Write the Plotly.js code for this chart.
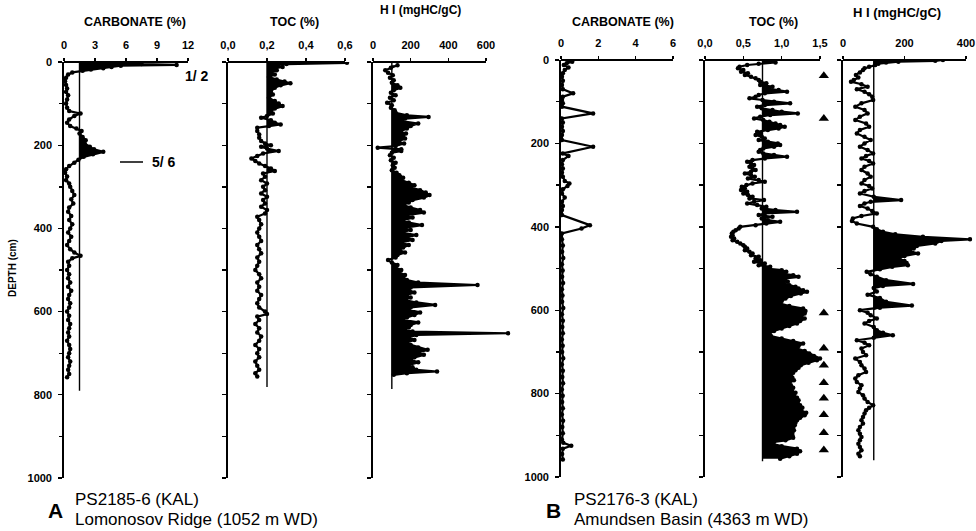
<!DOCTYPE html>
<html><head><meta charset="utf-8">
<script src="https://cdn.plot.ly/plotly-3.0.1.min.js"></script>
<style>html,body{margin:0;padding:0;background:#fff}#chart{width:976px;height:531px}</style>
</head><body><div id="chart"></div>
<script>
// ---------- DATA: [depth (cm), value] ----------
const carbonateA = [[0,4.8],[3,6.2],[5,7.5],[7,10.9],[9,5.5],[12,4.6],[15,3.8],[18,2.6],[21,1.8],[25,0.8],
[30,0.4],[38,0.2],[46,0.1],[55,0.2],[64,0.3],[72,0.2],[80,0.4],[90,0.3],[100,0.2],[110,0.3],
[118,0.5],[124,1.6],[130,1.0],[138,0.5],[146,0.3],[154,0.6],[160,1.2],[166,1.7],[172,1.5],[180,1.8],
[188,2.1],[196,2.0],[204,2.5],[210,2.9],[216,3.8],[222,2.8],[228,1.9],[235,1.4],[242,1.0],[250,0.5],
[258,0.2],[266,0.1],[275,0.3],[284,0.2],[292,0.5],[300,0.6],[310,0.8],[320,1.0],[330,0.7],[340,0.9],
[350,0.5],[360,0.4],[370,0.7],[380,0.5],[390,0.8],[400,0.6],[410,0.4],[420,0.7],[430,0.5],[440,0.3],
[450,0.6],[458,1.0],[466,1.6],[472,0.8],[480,0.4],[490,0.5],[500,0.3],[510,0.5],[520,0.4],[530,0.6],
[540,0.4],[550,0.7],[560,0.5],[570,0.4],[580,0.6],[590,0.5],[600,0.3],[610,0.5],[620,0.4],[630,0.6],
[640,0.5],[650,0.4],[660,0.5],[670,0.3],[680,0.5],[690,0.6],[700,0.5],[710,0.4],[720,0.6],[730,0.5],
[740,0.4],[750,0.5],[758,0.3]];

const tocA = [[0,0.26],[2,0.61],[5,0.30],[8,0.24],[12,0.28],[16,0.23],[20,0.25],[25,0.22],[30,0.24],[36,0.21],
[42,0.25],[47,0.29],[51,0.32],[56,0.27],[62,0.24],[70,0.22],[78,0.23],[86,0.21],[94,0.24],[100,0.26],
[106,0.28],[112,0.24],[118,0.22],[124,0.23],[130,0.20],[134,0.17],[140,0.22],[146,0.24],[150,0.27],[154,0.21],
[158,0.15],[166,0.15],[174,0.16],[182,0.16],[190,0.17],[196,0.19],[200,0.22],[204,0.17],[208,0.20],[214,0.26],
[220,0.18],[226,0.15],[232,0.12],[238,0.14],[244,0.16],[250,0.19],[256,0.22],[262,0.24],[268,0.18],[276,0.19],
[284,0.17],[292,0.20],[300,0.18],[308,0.19],[316,0.17],[324,0.20],[332,0.18],[340,0.19],[348,0.17],[356,0.20],
[364,0.19],[372,0.15],[380,0.16],[390,0.17],[400,0.16],[410,0.15],[420,0.16],[430,0.17],[440,0.15],[450,0.16],
[460,0.17],[470,0.15],[480,0.16],[490,0.15],[500,0.14],[510,0.16],[520,0.17],[530,0.15],[540,0.16],[550,0.15],
[560,0.17],[570,0.16],[580,0.15],[590,0.16],[600,0.19],[606,0.20],[612,0.15],[620,0.16],[630,0.14],[640,0.16],
[650,0.15],[660,0.17],[670,0.16],[680,0.14],[690,0.16],[700,0.15],[710,0.16],[720,0.14],[730,0.15],[740,0.16],
[748,0.14],[756,0.15]];

const hiA = [[8,130],[14,95],[20,65],[26,80],[32,105],[38,90],[44,110],[50,100],[56,130],[62,145],
[68,110],[74,95],[80,120],[86,90],[92,110],[98,75],[104,100],[110,95],[116,115],[122,120],
[128,180],[132,295],[136,170],[142,150],[148,240],[154,200],[160,180],[166,150],[172,175],[178,160],
[184,170],[190,140],[196,165],[202,120],[206,25],[210,150],[214,150],[218,100],[224,90],[230,110],
[236,95],[242,120],[248,105],[254,115],[260,100],[266,125],[272,140],[278,160],[284,150],[290,190],
[296,220],[302,200],[308,250],[314,280],[320,300],[326,270],[332,210],[338,190],[344,160],[350,200],
[356,250],[362,270],[368,180],[374,210],[380,160],[386,190],[392,260],[398,170],[404,200],[410,150],
[416,230],[422,180],[428,210],[434,150],[440,190],[446,160],[452,140],[458,170],[464,130],[470,120],
[476,80],[482,100],[488,130],[494,120],[500,150],[506,140],[512,170],[518,160],[524,180],[530,240],
[536,555],[542,200],[548,190],[554,220],[560,180],[566,200],[572,170],[578,230],[584,330],[590,200],
[596,190],[602,250],[608,220],[614,180],[620,160],[626,240],[632,200],[638,190],[644,170],[648,210],
[652,717],[656,230],[662,190],[668,220],[674,180],[680,200],[686,240],[692,290],[698,240],[704,270],
[710,220],[716,200],[722,240],[728,190],[734,210],[740,230],[744,340],[748,180],[752,110]];

const carbonateB = [[0,0.4],[4,0.6],[8,0.3],[12,0.15],[18,0.4],[24,0.2],[32,0.1],[40,0.05],[50,0.1],[60,0.05],
[70,0.1],[80,0.65],[88,0.1],[96,0.05],[104,0.1],[112,0.05],[128,1.72],[140,0.05],[150,0.1],[160,0.05],
[170,0.1],[180,0.05],[192,0.05],[208,1.72],[224,0.1],[230,0.4],[240,0.1],[250,0.05],[260,0.1],[270,0.05],
[280,0.1],[290,0.2],[296,0.45],[302,0.35],[310,0.1],[320,0.05],[330,0.2],[340,0.05],[350,0.1],[360,0.05],
[372,0.05],[396,1.55],[404,1.1],[416,0.05],[430,0.05],[445,0.1],[460,0.06],[475,0.12],[490,0.05],[505,0.09],
[520,0.06],[535,0.11],[550,0.05],[565,0.08],[580,0.06],[595,0.12],[610,0.05],[625,0.1],[640,0.07],[655,0.1],
[670,0.05],[685,0.09],[700,0.06],[715,0.12],[730,0.05],[745,0.1],[760,0.07],[775,0.11],[790,0.05],[805,0.09],
[820,0.06],[835,0.1],[850,0.05],[865,0.11],[880,0.07],[895,0.1],[910,0.05],[918,0.12],[925,0.55],[932,0.1],
[945,0.06],[958,0.1]];

const tocB = [[0,0.88],[3,0.80],[6,0.92],[9,0.70],[12,0.55],[16,0.45],[20,0.43],[24,0.50],[28,0.47],[32,0.56],
[36,0.52],[40,0.60],[44,0.66],[48,0.70],[52,0.72],[56,0.80],[60,0.72],[64,0.88],[68,0.80],[72,0.96],
[76,1.07],[80,0.78],[84,0.70],[88,0.66],[92,0.58],[96,0.75],[100,0.90],[104,1.11],[108,0.78],[112,0.68],
[116,0.74],[120,0.88],[124,1.00],[128,1.21],[132,0.85],[136,0.72],[140,0.64],[144,0.76],[148,0.84],[152,0.92],
[156,0.98],[160,1.04],[164,0.96],[168,0.82],[172,0.68],[176,0.72],[180,0.66],[184,0.74],[188,0.78],[192,0.70],
[196,0.82],[200,0.95],[204,0.98],[208,0.90],[212,0.76],[216,0.72],[220,0.70],[224,0.76],[228,0.90],[232,1.07],
[236,0.78],[240,0.62],[244,0.55],[248,0.60],[252,0.64],[256,0.58],[260,0.62],[264,0.66],[268,0.60],[272,0.52],
[276,0.60],[280,0.65],[284,0.56],[288,0.70],[292,0.78],[296,0.62],[300,0.54],[304,0.48],[308,0.52],[312,0.47],
[316,0.55],[320,0.50],[324,0.56],[328,0.62],[332,0.58],[336,0.77],[340,0.64],[344,0.55],[348,0.68],[352,0.80],
[356,0.74],[360,0.92],[364,1.20],[368,0.78],[372,0.70],[376,0.88],[380,0.74],[384,0.82],[388,0.98],[392,0.80],
[396,0.66],[400,0.46],[404,0.44],[408,0.40],[412,0.37],[416,0.35],[420,0.36],[424,0.34],[428,0.38],[432,0.36],
[436,0.42],[440,0.46],[444,0.50],[448,0.52],[452,0.55],[456,0.52],[460,0.58],[464,0.62],[468,0.60],[472,0.70],
[476,0.66],[480,0.72],[484,0.64],[488,0.78],[492,0.70],[496,0.85],[500,0.80],[504,1.00],[508,1.06],[512,0.98],
[516,1.15],[520,1.22],[524,1.05],[528,1.00],[532,1.08],[536,1.02],[540,1.10],[544,1.18],[548,1.22],[552,1.28],
[556,1.33],[560,1.25],[566,1.12],[572,1.05],[578,1.00],[584,0.98],[590,1.10],[596,1.28],[602,1.31],[608,1.30],
[614,1.26],[620,1.30],[626,1.24],[632,1.20],[638,1.10],[644,1.00],[650,0.90],[656,0.84],[662,0.86],[668,1.00],
[674,1.15],[680,1.28],[686,1.22],[692,1.20],[698,1.30],[704,1.36],[710,1.42],[716,1.50],[720,1.46],[726,1.35],
[732,1.25],[738,1.22],[744,1.18],[750,1.15],[756,1.12],[762,1.14],[768,1.16],[774,1.10],[780,1.12],[786,1.15],
[792,1.13],[798,1.18],[804,1.16],[810,1.20],[816,1.22],[822,1.21],[828,1.24],[834,1.27],[840,1.25],[846,1.32],
[852,1.30],[858,1.24],[864,1.20],[870,1.18],[876,1.17],[882,1.15],[888,1.16],[894,1.14],[900,1.14],[906,1.15],
[912,1.05],[916,0.90],[920,0.86],[926,1.00],[932,1.20],[938,1.24],[944,1.20],[950,1.10],[956,0.98]];

const hiB = [[0,325],[2,300],[4,180],[6,140],[9,115],[12,105],[16,85],[20,70],[24,65],[30,55],
[36,42],[42,50],[48,35],[52,26],[58,60],[64,80],[70,45],[76,70],[82,85],[88,95],
[96,98],[104,60],[112,40],[120,70],[128,80],[136,55],[144,40],[152,75],[160,85],[168,55],
[176,45],[184,70],[192,90],[200,70],[208,55],[216,80],[224,98],[230,75],[236,60],[242,85],
[248,98],[256,70],[264,60],[272,80],[280,90],[288,70],[296,60],[302,85],[308,95],[314,70],
[320,55],[328,100],[336,189],[340,90],[344,70],[350,55],[356,80],[362,95],[368,110],[374,60],
[380,32],[386,29],[392,45],[400,98],[406,110],[412,130],[418,170],[424,260],[430,413],[434,320],
[440,300],[446,240],[452,230],[458,218],[464,244],[470,200],[476,180],[482,200],[487,207],[492,211],
[496,160],[502,120],[508,77],[514,90],[520,110],[528,140],[537,228],[542,130],[547,100],[555,110],
[563,80],[571,120],[580,140],[589,224],[594,120],[600,55],[606,80],[612,90],[620,110],[626,85],
[632,70],[640,100],[648,110],[654,130],[660,162],[666,100],[672,45],[678,70],[684,85],[692,60],
[700,65],[708,75],[716,40],[724,55],[732,60],[740,70],[748,75],[756,50],[764,40],[772,45],
[780,60],[788,55],[796,50],[804,65],[812,70],[820,80],[828,98],[834,85],[840,75],[848,70],
[856,65],[864,60],[872,65],[880,55],[888,50],[896,55],[904,60],[912,55],[920,50],[928,55],
[936,60],[944,50],[950,55]];

// sample markers (triangles) in the TOC column of core B
const triangleDepthsB = [38,140,607,691,732,774,811,851,894,935];
const triangleValueB = 1.55;

// reference (background) lines: value and depth where they end
const refCarbA = 1.5, refCarbAEnd = 790;
const refTocA = 0.2,  refTocAEnd = 781;
const refHiA = 100,   refHiAEnd = 786;
const refTocB = 0.75, refTocBEnd = 962;
const refHiB = 100,   refHiBEnd = 960;

// tick labels
const carbATicks = [0,3,6,9,12];
const tocATicks = [0,0.2,0.4,0.6], tocATickText = ['0,0','0,2','0,4','0,6'];
const hiATicks = [0,200,400,600];
const carbBTicks = [0,2,4,6];
const tocBTicks = [0,0.5,1.0,1.5], tocBTickText = ['0,0','0,5','1,0','1,5'];
const hiBTicks = [0,200,400];

// ---------- LAYOUT ----------
const W = 976, H = 531;
const F = 'Liberation Sans, Arial, Helvetica, sans-serif';
const px = x => x / W, py = y => 1 - y / H;
const domA = [py(478), py(62)], domB = [py(477), py(60)];

const panels = [
  {data: carbonateA, ref: refCarbA, refEnd: refCarbAEnd, fill: true, x0: 64, ppu: 124/12, rmax: 12, axmax: 12, tv: carbATicks, tt: null, dom: domA, ylab: true},
  {data: tocA, ref: refTocA, refEnd: refTocAEnd, fill: true, x0: 228, ppu: 117/0.6, rmax: 0.63, axmax: 0.6, tv: tocATicks, tt: tocATickText, dom: domA, ylab: false},
  {data: hiA, ref: refHiA, refEnd: refHiAEnd, fill: true, x0: 373, ppu: 113/600, rmax: 730, axmax: 600, tv: hiATicks, tt: null, dom: domA, ylab: false},
  {data: carbonateB, ref: null, fill: false, x0: 561, ppu: 112/6, rmax: 6, axmax: 6, tv: carbBTicks, tt: null, dom: domB, ylab: true},
  {data: tocB, ref: refTocB, refEnd: refTocBEnd, fill: true, x0: 705, ppu: 115/1.5, rmax: 1.62, axmax: 1.5, tv: tocBTicks, tt: tocBTickText, dom: domB, ylab: false},
  {data: hiB, ref: refHiB, refEnd: refHiBEnd, fill: true, x0: 843, ppu: 123/400, rmax: 420, axmax: 400, tv: hiBTicks, tt: null, dom: domB, ylab: false}
];

const traces = [];
const layout = {
  width: W, height: H, margin: {l:0, r:0, t:0, b:0},
  paper_bgcolor: '#fff', plot_bgcolor: 'rgba(0,0,0,0)',
  showlegend: false, font: {family: F, color: '#000'},
  shapes: [], annotations: []
};

panels.forEach((p, i) => {
  const s = i === 0 ? '' : String(i + 1);
  const xr = 'x' + s, yr = 'y' + s;
  const depths = p.data.map(d => d[0]);
  const vals = p.data.map(d => d[1]);
  if (p.fill) {
    traces.push({
      type: 'scatter', mode: 'lines', xaxis: xr, yaxis: yr, hoverinfo: 'skip',
      x: [p.ref].concat(vals.map(v => Math.max(v, p.ref))).concat([p.ref]),
      y: [depths[0]].concat(depths).concat([depths[depths.length - 1]]),
      fill: 'toself', fillcolor: '#000', line: {width: 0, color: '#000'}
    });
  }
  if (p.ref !== null) {
    traces.push({
      type: 'scatter', mode: 'lines', xaxis: xr, yaxis: yr, hoverinfo: 'skip',
      x: [p.ref, p.ref], y: [0, p.refEnd], line: {color: '#000', width: 1.4}
    });
  }
  traces.push({
    type: 'scatter', mode: 'lines+markers', xaxis: xr, yaxis: yr,
    x: vals, y: depths,
    line: {color: '#000', width: 2.2}, marker: {color: '#000', size: 4.5}
  });
  const xd = [px(p.x0), px(p.x0 + p.rmax * p.ppu)];
  layout['xaxis' + s] = {
    domain: xd, range: [0, p.rmax], anchor: yr, side: 'top',
    showline: false, showgrid: false, zeroline: false, fixedrange: true,
    ticks: 'outside', ticklen: 3, tickwidth: 1.2, tickcolor: '#000',
    tickmode: 'array', tickvals: p.tv, ticktext: p.tt ? p.tt : p.tv.map(String),
    tickfont: {family: F, size: 11, color: '#000', weight: 'bold'}, ticklabelstandoff: 5
  };
  const ya = {
    domain: p.dom, range: [1000, 0], anchor: xr,
    showline: true, linecolor: '#000', linewidth: 1.8, showgrid: false, zeroline: false, fixedrange: true,
    ticks: 'outside', ticklen: 4, tickwidth: 1.4, tickcolor: '#000',
    tickmode: 'linear', tick0: 0, dtick: p.ylab ? 200 : 100,
    showticklabels: p.ylab, tickfont: {family: F, size: 11, color: '#000', weight: 'bold'}, ticklabelstandoff: 4
  };
  if (p.ylab) ya.minor = {dtick: 100, ticks: 'outside', ticklen: 3, tickcolor: '#000'};
  layout['yaxis' + s] = ya;
  // top axis line drawn only over the nominal scale
  layout.shapes.push({type: 'line', xref: xr, yref: 'paper', x0: 0, x1: p.axmax, y0: p.dom[1], y1: p.dom[1], line: {color: '#000', width: 1.8}});
});

traces.push({
  type: 'scatter', mode: 'markers', xaxis: 'x5', yaxis: 'y5', cliponaxis: false,
  x: triangleDepthsB.map(() => triangleValueB), y: triangleDepthsB,
  marker: {symbol: 'triangle-up', size: 9, color: '#000'}
});

const ann = (text, x, y, size, opts) => Object.assign({
  text, xref: 'paper', yref: 'paper', x: px(x), y: py(y), showarrow: false,
  font: {family: F, size, color: '#000', weight: 'bold'}, xanchor: 'center', yanchor: 'middle'
}, opts || {});

layout.annotations.push(
  ann('CARBONATE (%)', 135, 22, 12.5),
  ann('TOC (%)', 294, 22, 12.5),
  ann('H I (mgHC/gC)', 420, 10, 12),
  ann('CARBONATE (%)', 623, 22, 12.5),
  ann('TOC (%)', 773, 22, 12.5),
  ann('H I (mgHC/gC)', 897, 12, 13),
  ann('DEPTH (cm)', 12, 268, 10, {textangle: -90}),
  ann('1/ 2', 197, 76, 14),
  ann('5/ 6', 164, 162, 14),
  ann('A', 55, 510, 21),
  ann('PS2185-6 (KAL)', 73, 499, 17, {xanchor: 'left', font: {family: F, size: 17, color: '#000'}}),
  ann('Lomonosov Ridge (1052 m WD)', 73, 519, 17, {xanchor: 'left', font: {family: F, size: 17, color: '#000'}}),
  ann('B', 553, 510, 21),
  ann('PS2176-3 (KAL)', 572, 499, 17, {xanchor: 'left', font: {family: F, size: 17, color: '#000'}}),
  ann('Amundsen Basin (4363 m WD)', 572, 519, 17, {xanchor: 'left', font: {family: F, size: 17, color: '#000'}})
);
layout.shapes.push({type: 'line', xref: 'paper', yref: 'paper', x0: px(120), x1: px(143), y0: py(162), y1: py(162), line: {color: '#000', width: 1.5}});

Plotly.newPlot('chart', traces, layout, {staticPlot: true, displayModeBar: false});
</script></body></html>
